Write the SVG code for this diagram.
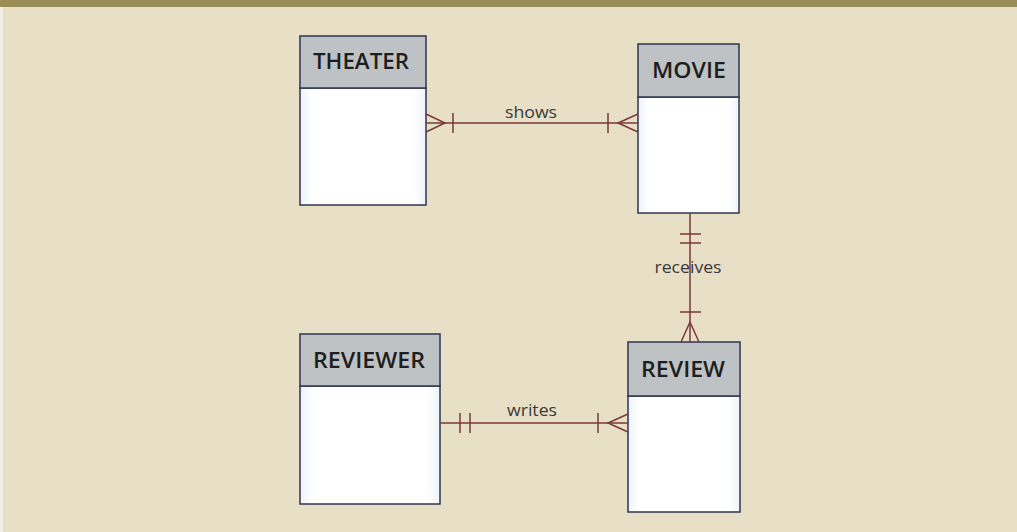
<svg xmlns="http://www.w3.org/2000/svg" width="1017" height="532" viewBox="0 0 1017 532">
<defs>
<linearGradient id="body" x1="0" y1="0" x2="1" y2="0">
<stop offset="0" stop-color="#eef3fa"/>
<stop offset="0.1" stop-color="#ffffff"/>
<stop offset="0.9" stop-color="#ffffff"/>
<stop offset="1" stop-color="#eef3fa"/>
</linearGradient>
</defs>
<style>
.hdr{fill:#bfc2c4;stroke:#2e3550;stroke-width:1.5}
.bd{fill:url(#body);stroke:#2e3550;stroke-width:1.5}
.title{font-family:"Open Sans","Liberation Sans",sans-serif;font-size:21px;font-weight:600;fill:#1e1e1e;text-anchor:middle}
.lbl{font-family:"Open Sans","Liberation Sans",sans-serif;font-size:16px;fill:#3a3a3a;text-anchor:middle}
.cn{stroke:#7a3838;stroke-width:1.5;fill:none}
</style>
<rect width="1017" height="532" fill="#e8dfc7"/>
<rect x="0" y="0" width="1017" height="7" fill="#9a8c55"/>
<rect x="0" y="7" width="3" height="525" fill="#f2efe6"/>

<g id="theater">
<rect class="bd" x="300" y="88" width="126" height="117"/>
<rect class="hdr" x="300" y="36" width="126" height="52"/>
<text class="title" x="361" y="69" textLength="96" lengthAdjust="spacingAndGlyphs">THEATER</text>
</g>
<g id="movie">
<rect class="bd" x="638" y="97" width="101" height="116"/>
<rect class="hdr" x="638" y="44" width="101" height="53"/>
<text class="title" x="689" y="78" textLength="74" lengthAdjust="spacingAndGlyphs">MOVIE</text>
</g>
<g id="reviewer">
<rect class="bd" x="300" y="386" width="140" height="118"/>
<rect class="hdr" x="300" y="334" width="140" height="52"/>
<text class="title" x="369" y="368" textLength="112" lengthAdjust="spacingAndGlyphs">REVIEWER</text>
</g>
<g id="review">
<rect class="bd" x="628" y="396" width="112" height="116"/>
<rect class="hdr" x="628" y="342" width="112" height="54"/>
<text class="title" x="683" y="377" textLength="84" lengthAdjust="spacingAndGlyphs">REVIEW</text>
</g>

<g id="connectors">
<path class="cn" d="M426 123H638"/>
<path class="cn" d="M426 114L445 123L426 132M453 113V133"/>
<path class="cn" d="M638 114L618 123L638 132M608 113V133"/>
<text class="lbl" x="531" y="118" textLength="52" lengthAdjust="spacingAndGlyphs">shows</text>
<path class="cn" d="M690 213V342"/>
<path class="cn" d="M680 234H701M680 243H701M680 312H701"/>
<path class="cn" d="M681 342L690 322L699 342"/>
<text class="lbl" x="688" y="273" textLength="67" lengthAdjust="spacingAndGlyphs">receives</text>
<path class="cn" d="M440 423H628"/>
<path class="cn" d="M460 413V433M470 413V433M598 413V433"/>
<path class="cn" d="M628 414L608 423L628 432"/>
<text class="lbl" x="532" y="416" textLength="50" lengthAdjust="spacingAndGlyphs">writes</text>
</g>
</svg>
